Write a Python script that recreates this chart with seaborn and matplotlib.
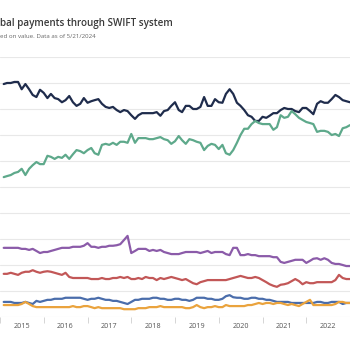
import matplotlib
matplotlib.use("Agg")
import matplotlib.pyplot as plt
import pandas as pd
import seaborn as sns

TITLE = "bal payments through SWIFT system"
SUBTITLE = "ed on value. Data as of 5/21/2024"

months = pd.date_range("2015-02-01", periods=96, freq="MS")
year_labels = ["2015", "2016", "2017", "2018", "2019", "2020", "2021", "2022"]

usd = [44.8, 45.0, 45.0, 45.2, 45.2, 43.8, 44.8, 43.8, 42.7, 42.3, 43.7, 43.1,
       42.1, 42.9, 42.1, 41.9, 41.3, 41.7, 42.5, 41.3, 40.6, 41.0, 42.1, 41.2,
       41.5, 41.7, 41.9, 41.0, 40.4, 40.2, 40.4, 39.8, 39.4, 39.8, 39.6, 38.8,
       38.1, 38.8, 39.2, 39.2, 39.2, 39.2, 39.4, 38.7, 39.6, 39.8, 40.6, 41.3,
       39.8, 39.4, 40.6, 40.6, 40.0, 40.0, 40.4, 42.3, 40.6, 40.6, 41.9, 41.3,
       41.2, 42.9, 43.8, 42.9, 41.2, 40.6, 39.8, 38.8, 38.5, 37.7, 37.7, 38.5,
       38.3, 38.7, 39.2, 39.2, 39.8, 40.2, 40.0, 40.0, 39.6, 39.4, 40.2, 40.2,
       39.6, 39.0, 41.0, 41.5, 41.2, 41.2, 41.9, 42.7, 42.3, 41.7, 41.5, 41.3]

eur = [26.9, 27.1, 27.3, 27.7, 27.9, 28.5, 27.3, 28.5, 29.2, 29.8, 29.4, 29.4,
       31.0, 30.8, 30.4, 30.8, 30.6, 31.2, 30.4, 31.3, 32.1, 31.9, 31.5, 32.1,
       32.5, 31.5, 31.2, 33.1, 33.3, 33.1, 33.5, 33.1, 33.7, 33.7, 33.5, 35.2,
       33.5, 34.4, 34.4, 34.4, 34.2, 34.2, 34.4, 34.6, 34.2, 34.0, 33.3, 33.8,
       34.8, 34.0, 33.3, 34.2, 34.0, 33.7, 33.5, 32.1, 32.9, 33.3, 33.1, 32.3,
       33.1, 31.5, 31.2, 32.1, 33.5, 35.0, 36.2, 36.2, 37.1, 37.7, 37.3, 37.1,
       37.1, 37.1, 36.0, 36.5, 38.8, 38.3, 38.5, 39.6, 39.0, 38.3, 37.9, 37.5,
       37.3, 37.1, 35.6, 35.8, 35.8, 35.6, 35.0, 35.2, 34.8, 36.3, 36.5, 36.9]

gbp = [13.3, 13.3, 13.3, 13.3, 13.3, 13.1, 13.1, 12.9, 13.1, 12.7, 12.3, 12.5,
       12.5, 12.7, 12.9, 13.1, 13.3, 13.3, 13.3, 13.5, 13.5, 13.5, 13.7, 14.2,
       13.5, 13.5, 13.3, 13.5, 13.5, 13.7, 13.7, 13.8, 14.0, 14.8, 15.6, 12.3,
       12.7, 13.1, 13.1, 13.1, 12.7, 12.9, 12.7, 12.9, 12.5, 12.3, 12.1, 12.1,
       12.1, 12.3, 12.5, 12.5, 12.5, 12.5, 12.3, 12.5, 12.7, 12.3, 12.5, 12.5,
       12.5, 12.1, 11.9, 13.3, 13.3, 11.9, 11.9, 12.1, 11.9, 11.9, 11.7, 11.7,
       11.7, 11.7, 11.5, 11.5, 10.6, 10.4, 10.6, 10.8, 11.0, 11.0, 11.0, 10.4,
       10.8, 11.2, 11.3, 11.0, 11.3, 11.0, 10.4, 10.2, 10.2, 10.0, 9.8, 9.8]

jpy = [8.3, 8.3, 8.5, 8.3, 8.1, 8.5, 8.7, 8.7, 9.0, 8.7, 8.5, 8.7,
       8.8, 8.7, 8.5, 8.3, 8.1, 8.5, 7.7, 7.5, 7.5, 7.5, 7.5, 7.5,
       7.3, 7.3, 7.3, 7.5, 7.3, 7.3, 7.5, 7.5, 7.7, 7.5, 7.7, 7.3,
       7.3, 7.5, 7.3, 7.7, 7.5, 7.5, 7.1, 7.5, 7.3, 7.5, 7.7, 7.5,
       7.3, 7.1, 7.3, 6.9, 6.5, 6.3, 6.7, 6.9, 7.1, 7.1, 7.1, 7.1,
       7.1, 7.1, 7.3, 7.5, 7.7, 7.9, 7.7, 7.5, 7.5, 7.7, 7.5, 7.1,
       6.7, 6.3, 6.0, 5.8, 6.2, 6.3, 6.5, 6.9, 7.3, 6.9, 6.3, 6.7,
       6.5, 6.5, 6.7, 6.7, 6.7, 6.7, 6.7, 7.1, 8.1, 7.5, 7.3, 7.3]

cad = [2.9, 2.9, 2.9, 2.7, 2.7, 2.7, 2.9, 2.7, 2.5, 3.1, 2.9, 3.1,
       3.3, 3.3, 3.5, 3.5, 3.5, 3.7, 3.7, 3.7, 3.7, 3.7, 3.5, 3.3,
       3.5, 3.5, 3.7, 3.5, 3.3, 3.3, 3.1, 3.1, 2.9, 2.7, 2.5, 2.9,
       3.3, 3.3, 3.5, 3.5, 3.5, 3.7, 3.7, 3.5, 3.5, 3.3, 3.3, 3.5,
       3.5, 3.3, 3.3, 3.1, 3.3, 3.7, 3.7, 3.7, 3.5, 3.5, 3.3, 3.3,
       3.5, 4.0, 4.2, 3.8, 3.7, 3.7, 3.5, 3.5, 3.7, 3.7, 3.5, 3.5,
       3.3, 3.3, 3.1, 2.9, 2.9, 2.9, 2.9, 2.7, 2.7, 2.7, 2.7, 2.7,
       2.7, 2.7, 2.9, 2.9, 2.7, 2.7, 2.9, 2.9, 2.9, 2.5, 2.7, 2.7]

cny = [2.3, 2.3, 2.3, 2.3, 2.3, 2.5, 2.9, 2.5, 2.1, 1.9, 1.9, 1.9,
       1.9, 1.9, 1.9, 1.9, 1.9, 1.9, 1.9, 2.1, 1.9, 1.9, 2.1, 2.1,
       1.9, 1.7, 1.9, 1.7, 1.7, 1.7, 1.7, 1.7, 1.7, 1.5, 1.5, 1.5,
       1.5, 1.7, 1.7, 1.7, 1.9, 1.9, 1.9, 2.1, 1.9, 1.9, 1.9, 1.9,
       1.9, 1.9, 1.7, 1.7, 1.9, 2.3, 1.9, 1.7, 1.9, 1.9, 2.1, 1.9,
       1.9, 2.3, 2.1, 2.1, 2.1, 2.1, 2.1, 2.3, 2.3, 2.5, 2.7, 2.5,
       2.7, 2.7, 2.5, 2.7, 2.7, 2.5, 2.3, 2.5, 2.3, 2.1, 2.5, 2.9,
       3.3, 2.3, 2.3, 2.3, 2.3, 2.3, 2.3, 2.5, 2.9, 2.9, 2.7, 2.7]

series = {"USD": usd, "EUR": eur, "GBP": gbp, "JPY": jpy, "CAD": cad, "CNY": cny}
colors = {"USD": "#1f2c4c", "EUR": "#5ea98b", "GBP": "#8b5ba9",
          "JPY": "#c25757", "CAD": "#4a6dab", "CNY": "#eaa33d"}

frames = [pd.DataFrame({"date": months, "share": vals, "currency": name})
          for name, vals in series.items()]
df = pd.concat(frames, ignore_index=True)

sns.set_theme(style="white")
plt.rcParams["font.family"] = ["Open Sans", "DejaVu Sans"]

fig = plt.figure(figsize=(3.5, 3.5), dpi=100)
ax = fig.add_axes([0.0, 33 / 350, 1.0, 260 / 350])

sns.lineplot(data=df, x="date", y="share", hue="currency", palette=colors,
             linewidth=1.6, legend=False, ax=ax)

ax.set_xlim(pd.Timestamp("2015-03-20"), pd.Timestamp("2022-11-16"))
ax.set_ylim(0, 50)
ax.set_yticks(range(0, 51, 5))
ax.yaxis.grid(True, color="#e8e8e8", linewidth=0.8)
ax.set_axisbelow(True)
ax.tick_params(axis="y", left=False, labelleft=False)
for side in ["top", "left", "right", "bottom"]:
    ax.spines[side].set_visible(False)

# ticks at year boundaries, labels centred on each year
year_starts = [pd.Timestamp(f"{y}-01-01") for y in range(2015, 2024)]
mid_years = [pd.Timestamp(f"{y}-07-01") for y in year_labels]
ax.set_xticks(year_starts)
ax.set_xticklabels([""] * len(year_starts))
ax.tick_params(axis="x", which="major", length=4, width=0.6, color="#cfcfcf",
               bottom=True)
ax.set_xticks(mid_years, minor=True)
ax.set_xticklabels(year_labels, minor=True)
ax.tick_params(axis="x", which="minor", length=0, labelsize=5.2, labelcolor="#555555",
               pad=4)
ax.set_xlabel("")
ax.set_ylabel("")

fig.text(0.0, 1 - 26 / 350, TITLE, fontsize=7.1, fontweight="semibold",
         color="#3a3a3a", ha="left", va="baseline")
fig.text(0.0, 1 - 38 / 350, SUBTITLE, fontsize=4.4, color="#666666",
         ha="left", va="baseline")

fig.savefig("out.png", dpi=100)
